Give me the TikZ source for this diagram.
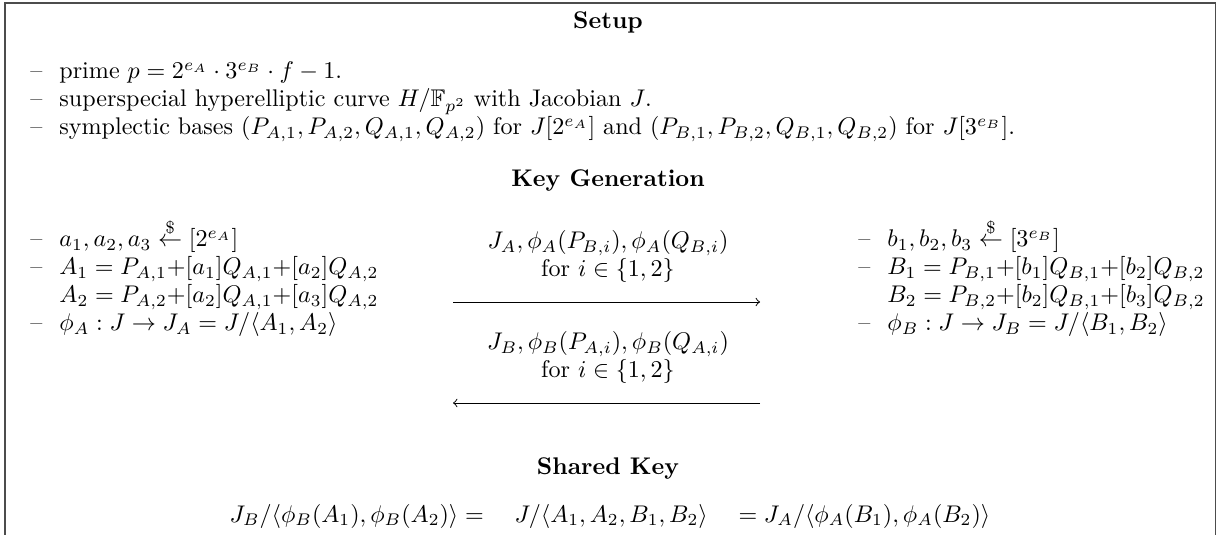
\documentclass[tikz,border=0pt]{standalone}
\usepackage{amsmath,amssymb}
\newcommand{\lidash}{\makebox[12pt][l]{--}}
\newcommand{\rnd}{\stackrel{\$}{\leftarrow}}
\begin{document}
\begin{tikzpicture}[>=to,x=0.415pt,y=-0.415pt,
  itm/.style={anchor=base west,inner sep=0pt},
  ttl/.style={anchor=base,inner sep=0pt,font=\bfseries},
  msg/.style={anchor=base,inner sep=0pt}]
\useasboundingbox (0,0) rectangle (1217,535);
% Rahmen (unten abgeschnitten)
\draw[gray!60!black,line width=0.8pt] (5,560) -- (5,3) -- (1215.5,3) -- (1215.5,560);
% Setup
\node[ttl] (setup) at (608,29) {Setup};
\node[itm] (s1) at (30,79) {\lidash prime $p = 2^{e_A}\cdot 3^{e_B}\cdot f - 1$.};
\node[itm] (s2) at (30,107) {\lidash superspecial hyperelliptic curve $H/\mathbb{F}_{p^2}$ with Jacobian $J$.};
\node[itm] (s3) at (30,135) {\lidash symplectic bases $(P_{A,1},P_{A,2},Q_{A,1},Q_{A,2})$ for $J[2^{e_A}]$ and $(P_{B,1},P_{B,2},Q_{B,1},Q_{B,2})$ for $J[3^{e_B}]$.};
% Key Generation
\node[ttl] (keygen) at (608,187) {Key Generation};
% Alice
\node[itm] (a1) at (30,247) {\lidash $a_1,a_2,a_3 \rnd [2^{e_A}]$};
\node[itm] (a2) at (30,275) {\lidash $A_1 = P_{A,1}{+}[a_1]Q_{A,1}{+}[a_2]Q_{A,2}$};
\node[itm] (a3) at (59,303) {$A_2 = P_{A,2}{+}[a_2]Q_{A,1}{+}[a_3]Q_{A,2}$};
\node[itm] (a4) at (30,331) {\lidash $\phi_A : J \to J_A = J/\langle A_1, A_2\rangle$};
% Bob
\node[itm] (b1) at (858,247) {\lidash $b_1,b_2,b_3 \rnd [3^{e_B}]$};
\node[itm] (b2) at (858,275) {\lidash $B_1 = P_{B,1}{+}[b_1]Q_{B,1}{+}[b_2]Q_{B,2}$};
\node[itm] (b3) at (887,303) {$B_2 = P_{B,2}{+}[b_2]Q_{B,1}{+}[b_3]Q_{B,2}$};
\node[itm] (b4) at (858,331) {\lidash $\phi_B : J \to J_B = J/\langle B_1, B_2\rangle$};
% Nachrichten
\node[msg] (m1) at (608,249) {$J_A, \phi_A(P_{B,i}), \phi_A(Q_{B,i})$};
\node[msg] (m2) at (608,277) {for $i \in \{1,2\}$};
\node[msg] (m3) at (608,350) {$J_B, \phi_B(P_{A,i}), \phi_B(Q_{A,i})$};
\node[msg] (m4) at (608,378) {for $i \in \{1,2\}$};
\coordinate (arrAl) at (453,302);
\coordinate (arrAr) at (760,302);
\coordinate (arrBl) at (453,403);
\coordinate (arrBr) at (760,403);
\draw[->,line width=0.4pt] (arrAl) -- (arrAr);
\draw[->,line width=0.4pt] (arrBr) -- (arrBl);
% Shared Key
\node[ttl] (shared) at (608,474) {Shared Key};
\node[msg] (eq) at (610,522) {$J_B/\langle\phi_B(A_1),\phi_B(A_2)\rangle = \quad J/\langle A_1,A_2,B_1,B_2\rangle \quad = J_A/\langle\phi_A(B_1),\phi_A(B_2)\rangle$};
\end{tikzpicture}
\end{document}
